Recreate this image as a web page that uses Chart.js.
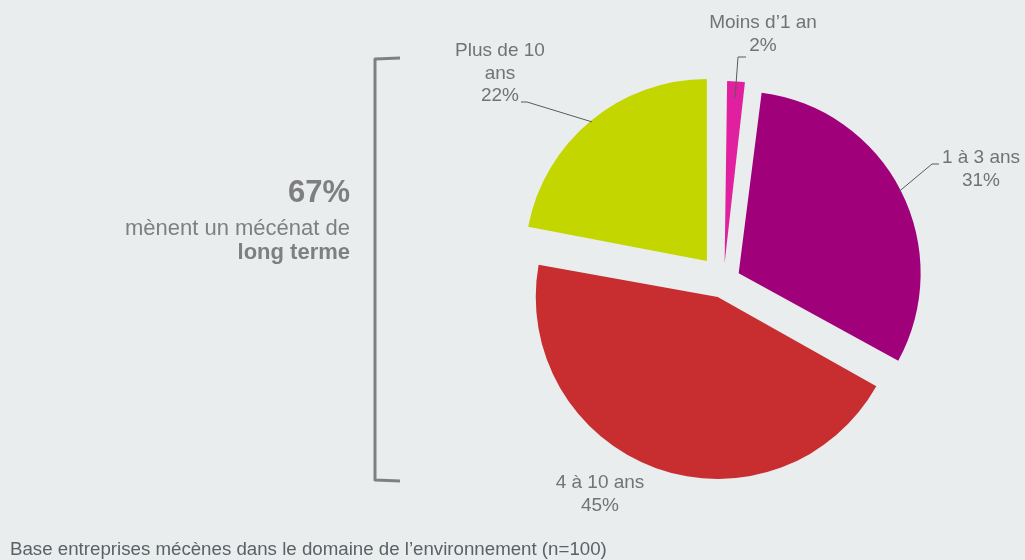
<!DOCTYPE html>
<html>
<head>
<meta charset="utf-8">
<script src="https://cdn.jsdelivr.net/npm/chart.js"></script>
<style>
    html, body { margin: 0; padding: 0; background: #e9edee; }
    #caja { width: 1025px; height: 560px; }
</style>
</head>
<body>
<div id="caja"><canvas id="pastel" width="1025" height="560"></canvas></div>
<script>
// Datos
const categorias = ['Moins d’1 an', '1 à 3 ans', '4 à 10 ans', 'Plus de 10 ans'];
const valores = [2, 31, 45, 22];
const resumenValor = '67%';

const fuente = '"Liberation Sans", Arial, sans-serif';

// Donde va cada etiqueta (texto partido en lineas, codo de la linea guia)
const rotulos = [
    { lineas: ['Moins d’1 an'], x: 763, y: 23, codo: [738, 57], fin: [746, 57] },
    { lineas: ['1 à 3 ans'], x: 981, y: 158, codo: [932, 164], fin: [939, 164] },
    { lineas: ['4 à 10 ans'], x: 600, y: 483 },
    { lineas: ['Plus de 10', 'ans'], x: 500, y: 51, codo: [527, 102], fin: [521, 102] }
];

const etiquetas = {
    id: 'etiquetas',
    beforeDatasetsDraw(chart) {
        // mismo radio para todas las porciones aunque esten separadas
        const meta = chart.getDatasetMeta(0);
        meta.data.forEach(arc => {
            const fix = 1 - Math.sin(Math.min(Math.PI, arc.circumference));
            arc.outerRadius = meta.controller.outerRadius - (arc.options.offset / 4) * fix;
        });
    },
    afterDraw(chart) {
        const ctx = chart.ctx;
        const meta = chart.getDatasetMeta(0);
        ctx.save();

        // lineas guia y textos de cada porcion
        meta.data.forEach((arc, i) => {
            const r = rotulos[i];
            const medio = (arc.startAngle + arc.endAngle) / 2;
            const desp = arc.options.offset / 4;
            if (r.codo) {
                const px = arc.x + Math.cos(medio) * (desp + arc.outerRadius - 1);
                const py = arc.y + Math.sin(medio) * (desp + arc.outerRadius - 1);
                ctx.strokeStyle = '#5a5a5a';
                ctx.lineWidth = 1;
                ctx.beginPath();
                ctx.moveTo(px, py);
                ctx.lineTo(r.codo[0], r.codo[1]);
                ctx.lineTo(r.fin[0], r.fin[1]);
                ctx.stroke();
            }
            ctx.fillStyle = '#737373';
            ctx.font = '19px ' + fuente;
            ctx.textAlign = 'center';
            ctx.textBaseline = 'middle';
            const lineas = r.lineas.concat([valores[i] + '%']);
            lineas.forEach((t, k) => ctx.fillText(t, r.x, r.y + k * 22.5));
        });

        // llave de la izquierda
        ctx.strokeStyle = '#808080';
        ctx.lineWidth = 3;
        ctx.lineJoin = 'round';
        ctx.beginPath();
        ctx.moveTo(400, 58);
        ctx.lineTo(375, 59);
        ctx.lineTo(375, 480);
        ctx.lineTo(400, 481);
        ctx.stroke();

        ctx.fillStyle = '#7f7f7f';
        ctx.textAlign = 'right';
        ctx.textBaseline = 'middle';
        ctx.font = 'bold 31px ' + fuente;
        ctx.fillText(resumenValor, 350, 193);
        ctx.font = '22px ' + fuente;
        ctx.fillText('mènent un mécénat de', 350, 229);
        ctx.font = 'bold 22px ' + fuente;
        ctx.fillText('long terme', 350, 253);

        // nota al pie
        ctx.fillStyle = '#5c6165';
        ctx.textAlign = 'left';
        ctx.font = '18.7px ' + fuente;
        ctx.fillText('Base entreprises mécènes dans le domaine de l’environnement (n=100)', 10, 550);
        ctx.restore();
    }
};

const pastel = document.getElementById('pastel');

new Chart(pastel, {
    type: 'pie',
    data: {
        labels: categorias,
        datasets: [{
            data: valores,
            backgroundColor: ['#e0209e', '#a1007b', '#c82d2f', '#c3d600'],
            borderWidth: 0,
            offset: [72, 68, 68, 104],
            radius: 182
        }]
    },
    options: {
        responsive: false,
        animation: false,
        layout: {
            padding: { left: 422, top: 2, right: 0, bottom: 0 }
        },
        plugins: {
            legend: { display: false },
            tooltip: { enabled: false }
        }
    },
    plugins: [etiquetas]
});
</script>
</body>
</html>
